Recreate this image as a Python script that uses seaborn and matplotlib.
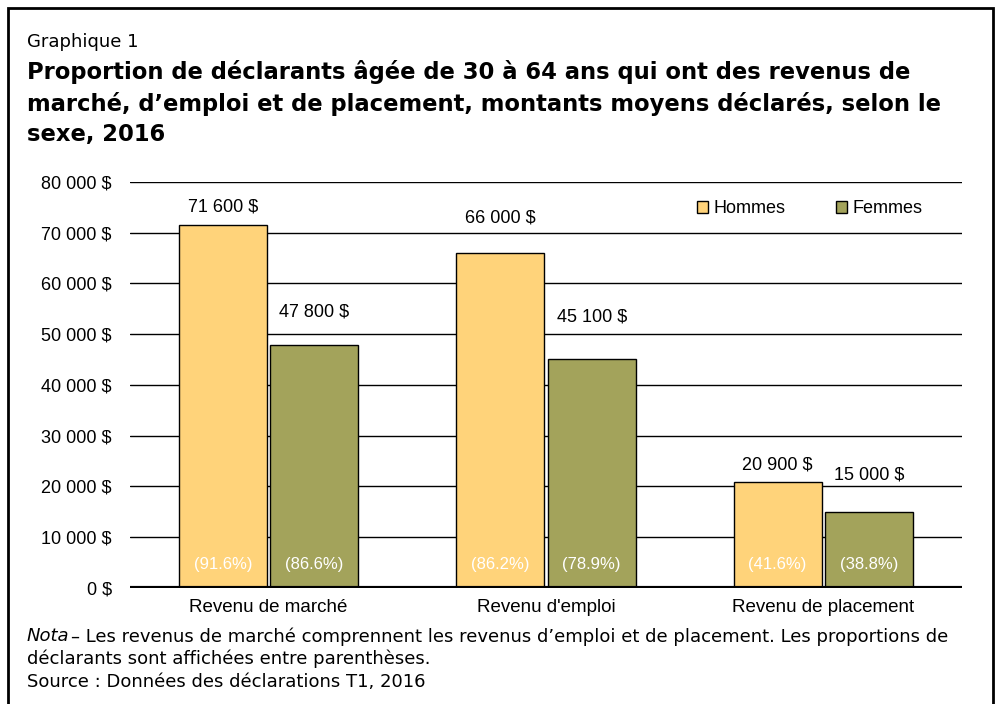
import matplotlib.pyplot as plt
import matplotlib.patches as mpatches
import seaborn as sns
import pandas as pd

categories = ["Revenu de marché", "Revenu d'emploi", "Revenu de placement"]
sexes = ["Hommes", "Femmes"]
montants_hommes = [71600, 66000, 20900]
montants_femmes = [47800, 45100, 15000]
prop_hommes = ["(91.6%)", "(86.2%)", "(41.6%)"]
prop_femmes = ["(86.6%)", "(78.9%)", "(38.8%)"]
yticks = [0, 10000, 20000, 30000, 40000, 50000, 60000, 70000, 80000]
couleurs = {"Hommes": "#FFD37A", "Femmes": "#A3A35B"}

# label gap above each bar (pixels), as placed in the original
decalage = {"Hommes": [18, 35, 17], "Femmes": [33, 42, 37]}


def fmt(v):
    return "{:,}".format(v).replace(",", " ") + " $"


def main():
    sns.set_style("white")
    plt.rcParams['font.family'] = ['Liberation Sans', 'DejaVu Sans']
    plt.rcParams['text.color'] = 'black'
    plt.rcParams['xtick.color'] = 'black'
    plt.rcParams['ytick.color'] = 'black'

    df = pd.DataFrame({
        "categorie": categories * 2,
        "sexe": ["Hommes"] * 3 + ["Femmes"] * 3,
        "montant": montants_hommes + montants_femmes,
        "prop": prop_hommes + prop_femmes,
    })

    fig = plt.figure(figsize=(9.99, 7.04), dpi=100)
    ax = fig.add_axes([0.130, 0.1648, 0.833, 0.5767])

    sns.barplot(data=df, x="categorie", y="montant", hue="sexe",
                hue_order=sexes, palette=couleurs, width=0.66, gap=0.04,
                edgecolor="black", linewidth=1.0, saturation=1, ax=ax,
                zorder=3)

    ax.set_ylim(0, 80000)
    ax.set_xlim(-0.5, 2.5)
    ax.set_yticks(yticks)
    ax.set_yticklabels([fmt(v) for v in yticks], fontsize=13)
    ax.tick_params(axis='y', length=0, pad=13)
    ax.tick_params(axis='x', length=0, pad=8, labelsize=13.5)
    for v in yticks[1:]:
        ax.axhline(v, color="black", linewidth=1.0, zorder=1)
    ax.axhline(0, color="black", linewidth=3, zorder=4)
    for s in ax.spines.values():
        s.set_visible(False)
    ax.set_xlabel("")
    ax.set_ylabel("")

    # value labels and proportions
    for cont, sexe in zip(ax.containers, sexes):
        sub = df[df.sexe == sexe]
        for bar, val, p, d in zip(cont.patches, sub.montant, sub.prop, decalage[sexe]):
            cx = bar.get_x() + bar.get_width() / 2
            ax.annotate(fmt(val), (cx, val), xytext=(0, d * 0.72),
                        textcoords="offset points", ha="center", va="center",
                        fontsize=13)
            ax.text(cx, 4600, p, ha="center", va="center", color="white",
                    fontsize=12, zorder=5)

    handles = [mpatches.Patch(facecolor=couleurs[s], edgecolor="black",
                              linewidth=1.0, label=s) for s in sexes]
    ax.legend(handles=handles, loc="upper right", ncol=2, frameon=False,
              fontsize=13, handlelength=0.6, handleheight=0.6,
              handletextpad=0.3, columnspacing=2.8,
              bbox_to_anchor=(0.972, 0.995))

    # titles
    fig.text(0.027, 1 - 33 / 704, "Graphique 1", fontsize=13,
             family="DejaVu Sans", va="top")
    fig.text(0.027, 1 - 60 / 704,
             "Proportion de déclarants âgée de 30 à 64 ans qui ont des revenus de\n"
             "marché, d’emploi et de placement, montants moyens déclarés, selon le\n"
             "sexe, 2016",
             fontsize=16.3, fontweight="bold", family="DejaVu Sans",
             va="top", linespacing=1.4)

    # notes
    fig.text(0.027, 1 - 627 / 704, "Nota", fontsize=13, style="italic",
             family="DejaVu Sans", va="top")
    fig.text(0.071, 1 - 627 / 704,
             "– Les revenus de marché comprennent les revenus d’emploi et de placement. Les proportions de",
             fontsize=13, family="DejaVu Sans", va="top")
    fig.text(0.027, 1 - 650 / 704,
             "déclarants sont affichées entre parenthèses.\n"
             "Source : Données des déclarations T1, 2016",
             fontsize=13, family="DejaVu Sans", va="top", linespacing=1.3)

    # frame around the figure
    fig.patches.append(mpatches.Rectangle((8 / 999, -0.05), 985 / 999, 1.05 - 8 / 704,
                                          transform=fig.transFigure, fill=False,
                                          edgecolor="black", linewidth=2))

    fig.savefig("out.png", dpi=100)


if __name__ == "__main__":
    main()
